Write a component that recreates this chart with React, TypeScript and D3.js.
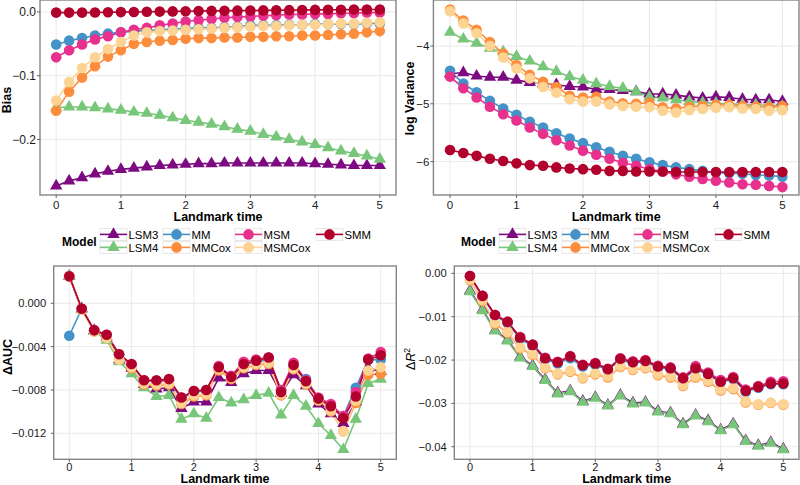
import React from "react";
import * as d3 from "d3";

// ---------- data ----------
const landmarkTimes = [0, 0.2, 0.4, 0.6, 0.8, 1, 1.2, 1.4, 1.6, 1.8, 2, 2.2, 2.4, 2.6, 2.8, 3, 3.2, 3.4, 3.6, 3.8, 4, 4.2, 4.4, 4.6, 4.8, 5];
const modelNames = ["LSM3", "LSM4", "MM", "MMCox", "MSM", "MSMCox", "SMM"];
const modelColors = ["#7d0a80", "#78c679", "#4393c8", "#fd8d3c", "#e7318c", "#fdd393", "#b1002b"];
const modelShapes = ["triangle", "triangle", "circle", "circle", "circle", "circle", "circle"];
const xTicks = [0, 1, 2, 3, 4, 5];

// Bias
const biasLSM3 = [-0.273, -0.265, -0.260, -0.254, -0.250, -0.247, -0.245, -0.243, -0.241, -0.240, -0.239, -0.238, -0.238, -0.237, -0.237, -0.237, -0.237, -0.237, -0.237, -0.237, -0.238, -0.239, -0.240, -0.241, -0.241, -0.241];
const biasLSM4 = [-0.150, -0.149, -0.149, -0.150, -0.152, -0.154, -0.157, -0.159, -0.162, -0.166, -0.170, -0.173, -0.176, -0.180, -0.184, -0.187, -0.192, -0.196, -0.200, -0.204, -0.208, -0.213, -0.218, -0.222, -0.226, -0.231];
const biasMM = [-0.051, -0.045, -0.041, -0.037, -0.034, -0.032, -0.030, -0.029, -0.028, -0.027, -0.026, -0.025, -0.025, -0.024, -0.023, -0.021, -0.021, -0.021, -0.020, -0.020, -0.019, -0.019, -0.019, -0.019, -0.018, -0.018];
const biasMMCox = [-0.155, -0.125, -0.103, -0.085, -0.070, -0.060, -0.050, -0.047, -0.045, -0.044, -0.042, -0.041, -0.041, -0.040, -0.040, -0.039, -0.039, -0.038, -0.038, -0.037, -0.037, -0.036, -0.035, -0.034, -0.032, -0.030];
const biasMSM = [-0.071, -0.060, -0.051, -0.043, -0.038, -0.032, -0.028, -0.025, -0.021, -0.018, -0.015, -0.013, -0.011, -0.009, -0.008, -0.007, -0.006, -0.005, -0.004, -0.004, -0.003, -0.003, -0.002, -0.002, -0.001, -0.001];
const biasMSMCox = [-0.139, -0.110, -0.088, -0.071, -0.058, -0.047, -0.037, -0.032, -0.030, -0.029, -0.028, -0.027, -0.026, -0.025, -0.024, -0.023, -0.022, -0.022, -0.021, -0.020, -0.020, -0.019, -0.018, -0.018, -0.017, -0.016];
const biasSMM = [-0.001, -0.001, -0.001, -0.0008, -0.0005, -0.0002, 0.0, 0.0003, 0.0006, 0.0009, 0.0012, 0.0015, 0.0017, 0.0019, 0.0021, 0.0023, 0.0025, 0.0027, 0.0029, 0.0031, 0.0033, 0.0034, 0.0036, 0.0037, 0.0039, 0.004];

// log Variance
const lvLSM3 = [-4.48, -4.46, -4.52, -4.54, -4.54, -4.59, -4.63, -4.65, -4.67, -4.70, -4.71, -4.75, -4.75, -4.77, -4.79, -4.83, -4.83, -4.85, -4.88, -4.90, -4.88, -4.89, -4.92, -4.93, -4.93, -4.96];
const lvLSM4 = [-3.76, -3.88, -3.95, -4.04, -4.10, -4.18, -4.26, -4.36, -4.44, -4.53, -4.59, -4.65, -4.70, -4.73, -4.79, -4.88, -4.90, -4.93, -4.96, -4.98, -4.99, -5.00, -5.01, -5.02, -5.02, -5.04];
const lvMM = [-4.43, -4.65, -4.80, -4.95, -5.08, -5.19, -5.31, -5.41, -5.51, -5.60, -5.68, -5.75, -5.83, -5.90, -5.95, -6.01, -6.06, -6.10, -6.13, -6.16, -6.19, -6.20, -6.21, -6.23, -6.24, -6.26];
const lvMMCox = [-3.37, -3.56, -3.72, -3.93, -4.13, -4.33, -4.50, -4.62, -4.71, -4.86, -4.89, -4.88, -4.96, -4.99, -5.00, -4.98, -5.06, -5.08, -5.05, -5.04, -5.02, -5.02, -5.04, -5.05, -5.06, -5.04];
const lvMSM = [-4.53, -4.73, -4.89, -5.05, -5.18, -5.29, -5.41, -5.52, -5.63, -5.72, -5.81, -5.88, -5.95, -6.02, -6.07, -6.13, -6.17, -6.22, -6.26, -6.30, -6.33, -6.36, -6.39, -6.40, -6.42, -6.44];
const lvMSMCox = [-3.40, -3.61, -3.78, -4.00, -4.20, -4.39, -4.56, -4.71, -4.81, -4.92, -4.96, -4.96, -5.01, -5.04, -5.05, -5.06, -5.12, -5.15, -5.11, -5.09, -5.07, -5.06, -5.08, -5.09, -5.12, -5.11];
const lvSMM = [-5.80, -5.85, -5.90, -5.95, -5.99, -6.03, -6.06, -6.07, -6.10, -6.12, -6.13, -6.14, -6.16, -6.16, -6.17, -6.17, -6.17, -6.18, -6.18, -6.18, -6.18, -6.18, -6.18, -6.18, -6.18, -6.18];

// Delta AUC
const aucLSM3 = [0.0025, -0.0005, -0.0025, -0.0031, -0.0052, -0.0060, -0.0075, -0.0079, -0.0078, -0.0097, -0.0091, -0.0091, -0.0069, -0.0073, -0.0065, -0.0062, -0.0062, -0.0083, -0.0066, -0.0076, -0.0093, -0.0102, -0.0111, -0.0091, -0.0060, -0.0063];
const aucLSM4 = [0.0025, -0.0006, -0.0026, -0.0034, -0.0054, -0.0065, -0.0078, -0.0086, -0.0085, -0.0107, -0.0102, -0.0106, -0.0087, -0.0092, -0.0089, -0.0085, -0.0083, -0.0103, -0.0085, -0.0095, -0.0111, -0.0122, -0.0135, -0.0107, -0.0074, -0.0070];
const aucMM = [-0.0030, -0.0005, -0.0025, -0.0030, -0.0048, -0.0057, -0.0072, -0.0072, -0.0071, -0.0088, -0.0082, -0.0081, -0.0060, -0.0068, -0.0057, -0.0054, -0.0052, -0.0080, -0.0058, -0.0070, -0.0088, -0.0095, -0.0104, -0.0078, -0.0052, -0.0052];
const aucMMCox = [0.0025, -0.0006, -0.0026, -0.0032, -0.0052, -0.0060, -0.0075, -0.0076, -0.0075, -0.0093, -0.0086, -0.0085, -0.0062, -0.0070, -0.0060, -0.0057, -0.0056, -0.0085, -0.0061, -0.0075, -0.0090, -0.0100, -0.0118, -0.0092, -0.0066, -0.0065];
const aucMSM = [0.0025, -0.0005, -0.0025, -0.0029, -0.0047, -0.0057, -0.0071, -0.0072, -0.0071, -0.0087, -0.0081, -0.0080, -0.0058, -0.0067, -0.0054, -0.0052, -0.0050, -0.0080, -0.0055, -0.0071, -0.0087, -0.0093, -0.0104, -0.0082, -0.0051, -0.0045];
const aucMSMCox = [0.0025, -0.0006, -0.0026, -0.0032, -0.0052, -0.0059, -0.0074, -0.0075, -0.0074, -0.0092, -0.0085, -0.0084, -0.0061, -0.0069, -0.0059, -0.0056, -0.0055, -0.0084, -0.0060, -0.0074, -0.0089, -0.0099, -0.0118, -0.0090, -0.0062, -0.0059];
const aucSMM = [0.0025, -0.0005, -0.0025, -0.0029, -0.0047, -0.0056, -0.0071, -0.0071, -0.0070, -0.0087, -0.0081, -0.0080, -0.0059, -0.0068, -0.0056, -0.0053, -0.0050, -0.0082, -0.0057, -0.0072, -0.0088, -0.0095, -0.0106, -0.0086, -0.0052, -0.0048];

// Delta R^2
const r2LSM3 = [-0.0040, -0.0084, -0.0131, -0.0154, -0.0193, -0.0213, -0.0245, -0.0276, -0.0271, -0.0295, -0.0286, -0.0304, -0.0281, -0.0299, -0.0297, -0.0318, -0.0322, -0.0347, -0.0327, -0.0340, -0.0361, -0.0347, -0.0386, -0.0397, -0.0390, -0.0405];
const r2LSM4 = [-0.0042, -0.0086, -0.0133, -0.0156, -0.0195, -0.0215, -0.0247, -0.0278, -0.0273, -0.0297, -0.0288, -0.0306, -0.0283, -0.0301, -0.0299, -0.0320, -0.0324, -0.0349, -0.0329, -0.0342, -0.0363, -0.0349, -0.0388, -0.0399, -0.0392, -0.0407];
const r2MM = [-0.0007, -0.0054, -0.0098, -0.0115, -0.0151, -0.0168, -0.0199, -0.0208, -0.0196, -0.0215, -0.0211, -0.0223, -0.0200, -0.0207, -0.0204, -0.0217, -0.0221, -0.0244, -0.0221, -0.0234, -0.0251, -0.0244, -0.0273, -0.0264, -0.0256, -0.0256];
const r2MMCox = [-0.0016, -0.0064, -0.0116, -0.0137, -0.0173, -0.0188, -0.0219, -0.0233, -0.0227, -0.0242, -0.0233, -0.0240, -0.0216, -0.0223, -0.0219, -0.0235, -0.0240, -0.0260, -0.0240, -0.0250, -0.0270, -0.0267, -0.0298, -0.0303, -0.0299, -0.0303];
const r2MSM = [-0.0006, -0.0052, -0.0096, -0.0112, -0.0147, -0.0164, -0.0195, -0.0204, -0.0191, -0.0211, -0.0207, -0.0220, -0.0196, -0.0203, -0.0200, -0.0213, -0.0217, -0.0240, -0.0214, -0.0229, -0.0246, -0.0239, -0.0268, -0.0260, -0.0250, -0.0249];
const r2MSMCox = [-0.0014, -0.0062, -0.0114, -0.0135, -0.0171, -0.0186, -0.0217, -0.0231, -0.0225, -0.0240, -0.0231, -0.0238, -0.0214, -0.0221, -0.0217, -0.0233, -0.0238, -0.0258, -0.0238, -0.0248, -0.0268, -0.0265, -0.0296, -0.0302, -0.0298, -0.0302];
const r2SMM = [-0.0006, -0.0052, -0.0096, -0.0112, -0.0148, -0.0165, -0.0196, -0.0205, -0.0192, -0.0212, -0.0208, -0.0221, -0.0197, -0.0205, -0.0202, -0.0215, -0.0219, -0.0242, -0.0219, -0.0232, -0.0250, -0.0242, -0.0271, -0.0262, -0.0254, -0.0254];

const biasTicks = [0, -0.1, -0.2];
const biasTickLabels = ["0.0", "\u22120.1", "\u22120.2"];
const lvTicks = [-4, -5, -6];
const lvTickLabels = ["\u22124", "\u22125", "\u22126"];
const aucTicks = [0, -0.004, -0.008, -0.012];
const aucTickLabels = ["0.000", "\u22120.004", "\u22120.008", "\u22120.012"];
const r2Ticks = [0, -0.01, -0.02, -0.03, -0.04];
const r2TickLabels = ["0.00", "\u22120.01", "\u22120.02", "\u22120.03", "\u22120.04"];

// ---------- layout ----------
const FONT = "'Liberation Sans', Arial, Helvetica, sans-serif";

const panels = [
  {
    series: [biasLSM3, biasLSM4, biasMM, biasMMCox, biasMSM, biasMSMCox, biasSMM],
    yTicks: biasTicks, yLabels: biasTickLabels, yDomain: [-0.2872, 0.0188],
    left: 40, right: 396, top: 0, bottom: 195,
    yTitle: "Bias", yTitleX: 10.5, yTitleY: 100, ySize: 12, yGap: 4,
    xTitleY: 221, xTickY: 209, xSize: 11.5, legend: true, legendX: 62,
  },
  {
    series: [lvLSM3, lvLSM4, lvMM, lvMMCox, lvMSM, lvMSMCox, lvSMM],
    yTicks: lvTicks, yLabels: lvTickLabels, yDomain: [-6.577, -3.205],
    left: 433.4, right: 799, top: 0, bottom: 195,
    yTitle: "log Variance", yTitleX: 413.5, yTitleY: 98.3, ySize: 11.5, yGap: 4,
    xTitleY: 221, xTickY: 209, xSize: 11.5, legend: true, legendX: 461,
  },
  {
    series: [aucLSM3, aucLSM4, aucMM, aucMMCox, aucMSM, aucMSMCox, aucSMM],
    yTicks: aucTicks, yLabels: aucTickLabels, yDomain: [-0.0144, 0.00344],
    left: 53.7, right: 396.3, top: 266, bottom: 459.3,
    yTitle: "\u0394AUC", yTitleX: 11.5, yTitleY: 357, ySize: 11.2, yGap: 7.5,
    xTitleY: 483, xTickY: 471.3, xSize: 11, legend: false, legendX: 0,
  },
  {
    series: [r2LSM3, r2LSM4, r2MM, r2MMCox, r2MSM, r2MSMCox, r2SMM],
    yTicks: r2Ticks, yLabels: r2TickLabels, yDomain: [-0.0429, 0.0017],
    left: 454.3, right: 799, top: 266, bottom: 459.3,
    yTitle: "R2", yTitleX: 414.5, yTitleY: 359, ySize: 11.2, yGap: 7.5,
    xTitleY: 483, xTickY: 471.3, xSize: 11, legend: false, legendX: 0,
  },
];

const circlePath = d3.symbol().type(d3.symbolCircle).size(Math.PI * 5.3 * 5.3)();
const trianglePath = d3.symbol().type(d3.symbolTriangle).size(66)();
const markerPath = (shape: string) => (shape === "triangle" ? trianglePath : circlePath);

function Panel({ p }: { p: any }) {
  const x = d3.scaleLinear().domain([-0.25, 5.25]).range([p.left, p.right]);
  const y = d3.scaleLinear().domain(p.yDomain).range([p.bottom, p.top]);
  const line = d3.line<number>().x((_, i) => x(landmarkTimes[i])).y((d) => y(d));
  const cx = (p.left + p.right) / 2;
  return (
    <g>
      <rect x={p.left} y={p.top} width={p.right - p.left} height={p.bottom - p.top} fill="#fff" />
      {xTicks.map((t) => (
        <line key={"gx" + t} x1={x(t)} x2={x(t)} y1={p.top} y2={p.bottom} stroke="#e6e6e6" strokeWidth={0.9} />
      ))}
      {p.yTicks.map((t: number) => (
        <line key={"gy" + t} x1={p.left} x2={p.right} y1={y(t)} y2={y(t)} stroke="#e6e6e6" strokeWidth={0.9} />
      ))}
      {p.series.map((s: number[], i: number) => (
        <path key={"l" + i} d={line(s) as string} fill="none" stroke={modelColors[i]} strokeWidth={1.6} />
      ))}
      {p.series.map((s: number[], i: number) =>
        s.map((v, j) => (
          <path
            key={"m" + i + "_" + j}
            d={markerPath(modelShapes[i]) as string}
            transform={`translate(${x(landmarkTimes[j])},${y(v)})`}
            fill={modelColors[i]}
          />
        ))
      )}
      <rect x={p.left} y={p.top} width={p.right - p.left} height={p.bottom - p.top} fill="none" stroke="#858585" strokeWidth={1.4} />
      {xTicks.map((t) => (
        <g key={"xt" + t}>
          <line x1={x(t)} x2={x(t)} y1={p.bottom} y2={p.bottom + 3} stroke="#555" strokeWidth={0.9} />
          <text x={x(t)} y={p.xTickY} textAnchor="middle" fontSize={p.xSize} fontFamily={FONT} fill="#1a1a1a">
            {String(t)}
          </text>
        </g>
      ))}
      {p.yTicks.map((t: number, k: number) => (
        <g key={"yt" + t}>
          <line x1={p.left - 3} x2={p.left} y1={y(t)} y2={y(t)} stroke="#555" strokeWidth={0.9} />
          <text x={p.left - p.yGap} y={y(t)} dy="0.36em" textAnchor="end" fontSize={p.ySize} fontFamily={FONT} fill="#1a1a1a">
            {p.yLabels[k]}
          </text>
        </g>
      ))}
      <text x={cx} y={p.xTitleY} textAnchor="middle" fontSize={12.5} fontWeight="bold" fontFamily={FONT} fill="#000">
        Landmark time
      </text>
      {p.yTitle === "R2" ? (
        <text
          transform={`translate(${p.yTitleX},${p.yTitleY}) rotate(-90)`}
          textAnchor="middle"
          fontSize={12.5}
          fontFamily={FONT}
          fill="#000"
        >
          <tspan>{"\u0394"}</tspan>
          <tspan fontStyle="italic">R</tspan>
          <tspan fontSize={8.5} dy={-5}>2</tspan>
        </text>
      ) : (
        <text
          transform={`translate(${p.yTitleX},${p.yTitleY}) rotate(-90)`}
          textAnchor="middle"
          fontSize={12.5}
          fontWeight="bold"
          fontFamily={FONT}
          fill="#000"
        >
          {p.yTitle}
        </text>
      )}
    </g>
  );
}

const legendColumns = [[0, 1], [2, 3], [4, 5], [6]];
const legendColOffsets = [38, 101, 173, 254];

function Legend({ x0 }: { x0: number }) {
  const rowY = [228.4, 241.4];
  const keyW = 27;
  const keyH = 12;
  return (
    <g>
      <text x={x0} y={246} fontSize={12} fontWeight="bold" fontFamily={FONT} fill="#000">
        Model
      </text>
      {legendColumns.map((col, c) =>
        col.map((mi, r) => {
          const kx = x0 + legendColOffsets[c];
          const ky = rowY[r];
          return (
            <g key={modelNames[mi]}>
              <rect x={kx} y={ky} width={keyW} height={keyH} fill="#fff" stroke="#e3e3e3" strokeWidth={0.8} />
              <line x1={kx} x2={kx + keyW} y1={ky + keyH / 2} y2={ky + keyH / 2} stroke={modelColors[mi]} strokeWidth={1.6} />
              <path d={markerPath(modelShapes[mi]) as string} transform={`translate(${kx + keyW / 2},${ky + keyH / 2})`} fill={modelColors[mi]} />
              <text x={kx + keyW + 1.5} y={ky + keyH / 2 + 4.1} fontSize={11.4} fontFamily={FONT} fill="#000">
                {modelNames[mi]}
              </text>
            </g>
          );
        })
      )}
    </g>
  );
}

export default function App() {
  return (
    <svg width={800} height={485} style={{ position: "absolute", left: 0, top: 0, background: "#fff" }}>
      <rect x={0} y={0} width={800} height={485} fill="#fff" />
      {panels.map((p, i) => (
        <Panel key={i} p={p} />
      ))}
      {panels.filter((p) => p.legend).map((p, i) => (
        <Legend key={"lg" + i} x0={p.legendX} />
      ))}
    </svg>
  );
}
